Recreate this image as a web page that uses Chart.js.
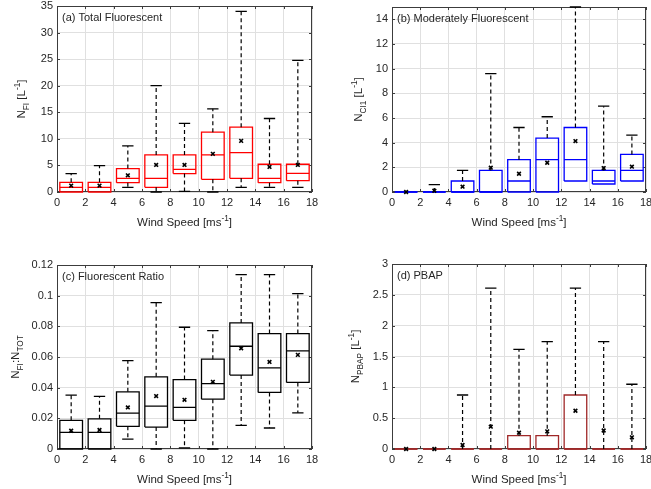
<!DOCTYPE html>
<html><head><meta charset="utf-8">
<script src="https://cdn.jsdelivr.net/npm/chart.js@4/dist/chart.umd.min.js"></script>
<style>
html,body{margin:0;padding:0;background:#fff;overflow:hidden;width:651px;height:489px;position:relative;}
canvas{position:absolute;}
</style></head><body>
<canvas id="ca" width="325" height="245" style="left:0;top:0"></canvas>
<canvas id="cb" width="340" height="245" style="left:325px;top:0"></canvas>
<canvas id="cc" width="325" height="244" style="left:0;top:245px"></canvas>
<canvas id="cd" width="340" height="244" style="left:325px;top:245px"></canvas>
<script>
// ---- shared categories / ticks ----
const windCenters = [1, 3, 5, 7, 9, 11, 13, 15, 17];
const xTickValues = [0, 2, 4, 6, 8, 10, 12, 14, 16, 18];
const xTitle = 'Wind Speed [ms^{-1}]';

// ---- (a) Total Fluorescent ----
const aQ1   = [0, 0, 1.76, 0.88, 3.46, 2.39, 2.58, 1.76, 2.14];
const aMed  = [0.88, 0.88, 2.58, 2.58, 4.27, 6.98, 7.42, 2.58, 3.52];
const aQ3   = [1.82, 1.82, 4.4, 6.98, 6.98, 11.25, 12.19, 5.22, 5.22];
const aLo   = [0, 0, 0.88, 0, 0.13, 0, 0.88, 0.88, 0.88];
const aHi   = [3.46, 4.97, 8.67, 20.0, 12.9, 15.65, 34.0, 13.83, 24.76];
const aMean = [1.2, 1.2, 3.14, 5.09, 5.09, 7.17, 9.62, 4.71, 5.09];
const aYTicks = [0, 5, 10, 15, 20, 25, 30, 35];
const aYLabels = ['0', '5', '10', '15', '20', '25', '30', '35'];

// ---- (b) Moderately Fluorescent ----
const bQ1   = [0, 0, 0, 0, 0, 0, 0.89, 0.65, 0.89];
const bMed  = [0, 0, 0, 0, 0.89, 2.62, 2.62, 0.89, 1.75];
const bQ3   = [0, 0, 0.89, 1.75, 2.62, 4.37, 5.23, 1.75, 3.05];
const bLo   = [0, 0, 0, 0, 0, 0, 0.89, 0.65, 0.89];
const bHi   = [0, 0.59, 1.75, 9.6, 5.23, 6.1, 15, 6.96, 4.61];
const bMean = [0, 0.1, 0.43, 1.97, 1.48, 2.37, 4.13, 1.94, 2.05];
const bYTicks = [0, 2, 4, 6, 8, 10, 12, 14];
const bYLabels = ['0', '2', '4', '6', '8', '10', '12', '14'];

// ---- (c) Fluorescent Ratio ----
const cQ1   = [0, 0, 0.0148, 0.0143, 0.0187, 0.0325, 0.0482, 0.0369, 0.0434];
const cMed  = [0.0108, 0.0108, 0.0234, 0.028, 0.0271, 0.0427, 0.067, 0.0529, 0.064];
const cQ3   = [0.0187, 0.0197, 0.0373, 0.0471, 0.0453, 0.0586, 0.0822, 0.0753, 0.0753];
const cLo   = [0, 0, 0.0065, 0, 0.0007, 0, 0.0154, 0.0137, 0.0236];
const cHi   = [0.0351, 0.0343, 0.0577, 0.0955, 0.0794, 0.0772, 0.1137, 0.1137, 0.1013];
const cMean = [0.0119, 0.0124, 0.0271, 0.0345, 0.0321, 0.0438, 0.0657, 0.0568, 0.0614];
const cYTicks = [0, 0.02, 0.04, 0.06, 0.08, 0.1, 0.12];
const cYLabels = ['0', '0.02', '0.04', '0.06', '0.08', '0.1', '0.12'];

// ---- (d) PBAP ----
const dQ1   = [0, 0, 0, 0, 0, 0, 0, 0, 0];
const dMed  = [0, 0, 0, 0, 0, 0, 0, 0, 0];
const dQ3   = [0, 0, 0, 0, 0.216, 0.216, 0.876, 0, 0];
const dLo   = [0, 0, 0, 0, 0, 0, 0, 0, 0];
const dHi   = [0, 0, 0.876, 2.61, 1.616, 1.74, 2.61, 1.74, 1.05];
const dMean = [0, 0, 0.065, 0.362, 0.265, 0.286, 0.62, 0.30, 0.19];
const dYTicks = [0, 0.5, 1, 1.5, 2, 2.5, 3];
const dYLabels = ['0', '0.5', '1', '1.5', '2', '2.5', '3'];

const FAM = '"Liberation Sans", Arial, Helvetica, sans-serif';
const TXT = '#262626';
const FRAME = '#3c3c3c';
const GRID = '#e0e0e0';
const TICK_FS = 11;
const TITLE_FS = 11.5;

function parseRich(s) {
  const segs = []; const re = /([_^])\{([^}]*)\}|([^_^]+)/g; let m;
  while ((m = re.exec(s))) {
    if (m[1]) segs.push({t: m[2], k: m[1]}); else segs.push({t: m[3], k: ''});
  }
  return segs;
}
function drawRich(ctx, s, cx, cy, size, rotate) {
  const segs = parseRich(s);
  ctx.save();
  ctx.translate(cx, cy);
  if (rotate) ctx.rotate(-Math.PI / 2);
  let w = 0;
  segs.forEach(g => { g.size = g.k ? size * 0.72 : size; ctx.font = g.size + 'px ' + FAM; g.w = ctx.measureText(g.t).width; w += g.w; });
  let x = -w / 2;
  ctx.textBaseline = 'alphabetic'; ctx.textAlign = 'left'; ctx.fillStyle = TXT;
  segs.forEach(g => {
    ctx.font = g.size + 'px ' + FAM;
    const dy = g.k === '_' ? size * 0.32 : (g.k === '^' ? -size * 0.42 : 0);
    ctx.fillText(g.t, x, dy);
    x += g.w;
  });
  ctx.restore();
}

function makePanel(id, spec) {
  const canvas = document.getElementById(id);
  const W = canvas.width, H = canvas.height;
  const box = [], medL = [], whisk = [], caps = [], means = [];
  const HB = 0.8, HC = 0.4;
  windCenters.forEach((x, i) => {
    const q1 = spec.q1[i], q3 = spec.q3[i];
    box.push({x: x - HB, y: q1}, {x: x + HB, y: q1}, {x: x + HB, y: q3}, {x: x - HB, y: q3}, {x: x - HB, y: q1}, {x: x, y: null});
    medL.push({x: x - HB, y: spec.med[i]}, {x: x + HB, y: spec.med[i]}, {x: x, y: null});
    if (spec.hi[i] > q3) {
      whisk.push({x: x, y: q3}, {x: x, y: spec.hi[i]}, {x: x, y: null});
      caps.push({x: x - HC, y: spec.hi[i]}, {x: x + HC, y: spec.hi[i]}, {x: x, y: null});
    }
    if (spec.lo[i] < q1) {
      whisk.push({x: x, y: q1}, {x: x, y: spec.lo[i]}, {x: x, y: null});
      caps.push({x: x - HC, y: spec.lo[i]}, {x: x + HC, y: spec.lo[i]}, {x: x, y: null});
    }
    means.push({x: x, y: spec.mean[i]});
  });
  const P = spec.plot; // {L,R,T,B} in canvas px
  const deco = {
    id: 'deco',
    beforeDatasetsDraw(chart) {
      const ctx = chart.ctx, a = chart.chartArea;
      ctx.save();
      ctx.strokeStyle = FRAME; ctx.lineWidth = 1;
      ctx.strokeRect(Math.round(a.left) + 0.5, Math.round(a.top) + 0.5, Math.round(a.right - a.left) - 1, Math.round(a.bottom - a.top) - 1);
      const xs = chart.scales.x, ys = chart.scales.y;
      ctx.beginPath();
      xTickValues.forEach(v => {
        const px = Math.round(xs.getPixelForValue(v)) + 0.5;
        ctx.moveTo(px, a.bottom); ctx.lineTo(px, a.bottom - 3);
        ctx.moveTo(px, a.top); ctx.lineTo(px, a.top + 3);
      });
      spec.yTicks.forEach(v => {
        const py = Math.round(ys.getPixelForValue(v)) + 0.5;
        ctx.moveTo(a.left, py); ctx.lineTo(a.left + 3, py);
        ctx.moveTo(a.right, py); ctx.lineTo(a.right - 3, py);
      });
      ctx.stroke();
      ctx.restore();
    },
    afterDraw(chart) {
      const ctx = chart.ctx, a = chart.chartArea;
      ctx.save();
      ctx.font = '11px ' + FAM; ctx.fillStyle = TXT; ctx.textBaseline = 'middle'; ctx.textAlign = 'left';
      ctx.fillText(spec.label, a.left + 5, a.top + 11.5);
      ctx.restore();
      drawRich(ctx, xTitle, (a.left + a.right) / 2, a.bottom + 33.5, TITLE_FS, false);
      drawRich(ctx, spec.yTitle, a.left - spec.yTitleOff, (a.top + a.bottom) / 2, TITLE_FS, true);
    }
  };
  const common = {type: 'line', pointRadius: 0, fill: false, clip: false, tension: 0, spanGaps: false};
  new Chart(canvas, {
    type: 'line',
    data: {
      datasets: [
        Object.assign({}, common, {data: means, showLine: false, pointRadius: 2.6, pointStyle: 'crossRot', pointBorderColor: '#000', pointBorderWidth: 1.6, pointBackgroundColor: '#000', order: 1}),
        Object.assign({}, common, {data: caps, borderColor: '#000', borderWidth: 1.3, order: 2}),
        Object.assign({}, common, {data: whisk, borderColor: '#000', borderWidth: 1.2, borderDash: [4, 3], order: 3}),
        Object.assign({}, common, {data: medL, borderColor: spec.color, borderWidth: 1.3, order: 4}),
        Object.assign({}, common, {data: box, borderColor: spec.color, borderWidth: 1.3, order: 5})
      ]
    },
    options: {
      responsive: false, animation: false, devicePixelRatio: 1,
      layout: {padding: {left: 0, top: P.T, right: W - P.R, bottom: 0}},
      plugins: {legend: {display: false}, tooltip: {enabled: false}},
      scales: {
        x: {
          type: 'linear', min: 0, max: 18,
          afterBuildTicks: s => { s.ticks = xTickValues.map(v => ({value: v})); },
          afterFit: s => { s.height = H - P.B; s.paddingLeft = 0; s.paddingRight = 0; },
          ticks: {font: {family: FAM, size: TICK_FS}, color: TXT, padding: 4, maxRotation: 0, autoSkip: false, callback: v => String(v)},
          grid: {color: GRID, lineWidth: 1, drawTicks: false},
          border: {display: false}
        },
        y: {
          type: 'linear', min: 0, max: spec.ymax,
          afterBuildTicks: s => { s.ticks = spec.yTicks.map(v => ({value: v})); },
          afterFit: s => { s.width = P.L; s.paddingTop = 0; s.paddingBottom = 0; },
          ticks: {font: {family: FAM, size: TICK_FS}, color: TXT, padding: 4, autoSkip: false, callback: (v, i) => spec.yLabels[i]},
          grid: {color: GRID, lineWidth: 1, drawTicks: false},
          border: {display: false}
        }
      }
    },
    plugins: [deco]
  });
}

makePanel('ca', {q1: aQ1, med: aMed, q3: aQ3, lo: aLo, hi: aHi, mean: aMean, yTicks: aYTicks, yLabels: aYLabels, ymax: 35,
  color: '#ff0000', label: '(a) Total Fluorescent', yTitle: 'N_{FI} [L^{-1}]', yTitleOff: 32, plot: {L: 57, R: 312, T: 6, B: 192}});
makePanel('cb', {q1: bQ1, med: bMed, q3: bQ3, lo: bLo, hi: bHi, mean: bMean, yTicks: bYTicks, yLabels: bYLabels, ymax: 15,
  color: '#0000ff', label: '(b) Moderately Fluorescent', yTitle: 'N_{CI1} [L^{-1}]', yTitleOff: 30, plot: {L: 67, R: 321, T: 7, B: 192}});
makePanel('cc', {q1: cQ1, med: cMed, q3: cQ3, lo: cLo, hi: cHi, mean: cMean, yTicks: cYTicks, yLabels: cYLabels, ymax: 0.12,
  color: '#000000', label: '(c) Fluorescent Ratio', yTitle: 'N_{FI}:N_{TOT}', yTitleOff: 38, plot: {L: 57, R: 312, T: 20, B: 204}});
makePanel('cd', {q1: dQ1, med: dMed, q3: dQ3, lo: dLo, hi: dHi, mean: dMean, yTicks: dYTicks, yLabels: dYLabels, ymax: 3,
  color: '#a02828', label: '(d) PBAP', yTitle: 'N_{PBAP} [L^{-1}]', yTitleOff: 33, plot: {L: 67, R: 321, T: 19, B: 204}});
</script>
</body></html>
